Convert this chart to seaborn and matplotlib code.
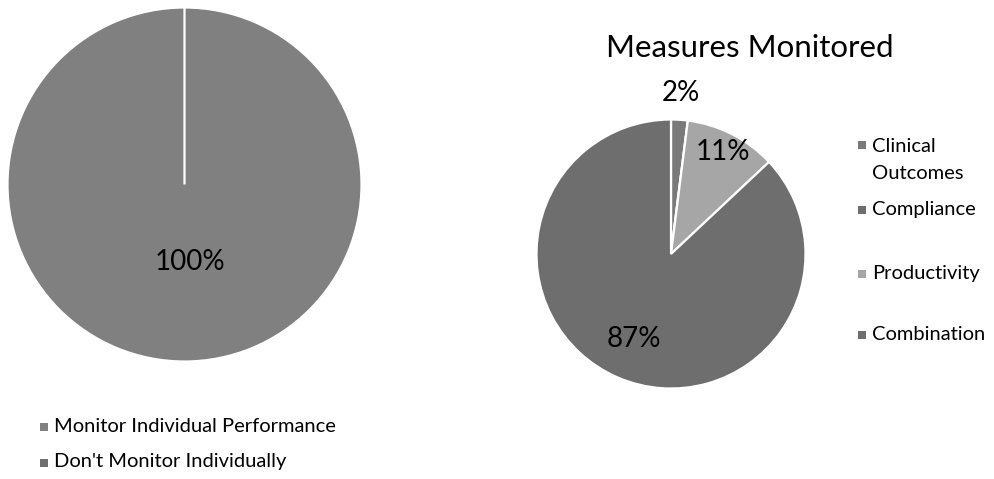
import numpy as np
import matplotlib
matplotlib.use("Agg")
import matplotlib.pyplot as plt
import seaborn as sns
from matplotlib.patches import Rectangle

# Monitoring of individual performance
monitor_labels = ["Monitor Individual Performance", "Don't Monitor Individually"]
monitor_values = [100, 0]
monitor_colors = ["#808080", "#6e6e6e"]

# Measures monitored
measure_title = "Measures Monitored"
measure_labels = ["Clinical\nOutcomes", "Compliance", "Productivity", "Combination"]
measure_values = [2, 0, 11, 87]
measure_colors = ["#7a7a7a", "#6e6e6e", "#a6a6a6", "#6e6e6e"]

sns.set_style("white")
plt.rcParams["font.family"] = ["Lato", "DejaVu Sans"]

W, H = 995, 479
fig = plt.figure(figsize=(W / 100, H / 100), dpi=100)
fig.patch.set_facecolor("white")


def pie_axes(cx, cy, r):
    return fig.add_axes([(cx - r) / W, (H - cy - r) / H, 2 * r / W, 2 * r / H])


def finish(ax):
    ax.set_xlim(-1, 1)
    ax.set_ylim(-1, 1)
    ax.set_aspect("equal")
    ax.axis("off")


def pct(v):
    return f"{v:.0f}%" if v > 0.5 else ""


def place_labels(texts, dists, base=0.5):
    for t, d in zip(texts, dists):
        if t.get_text():
            x, y = t.get_position()
            t.set_position((x / base * d, y / base * d))


wedge_style = dict(edgecolor="white", linewidth=1.6)
pct_style = dict(fontsize=20, color="black")

# Left pie
ax1 = pie_axes(184.5, 184.5, 177)
w1, _, t1 = ax1.pie(monitor_values, colors=monitor_colors, startangle=90,
                    counterclock=False, radius=1.0, autopct=pct,
                    pctdistance=0.5, wedgeprops=wedge_style, textprops=pct_style)
place_labels(t1, [0.44, 0.0])
t1[0].set_x(t1[0].get_position()[0] + 0.03)
finish(ax1)

# Right pie
ax2 = pie_axes(671, 254, 134.5)
w2, _, t2 = ax2.pie(measure_values, colors=measure_colors, startangle=90,
                    counterclock=False, radius=1.0, autopct=pct,
                    pctdistance=0.5, wedgeprops=wedge_style, textprops=pct_style)
place_labels(t2, [1.2, 0.0, 0.85, 0.69])
finish(ax2)

fig.text(750 / W, 1 - 48 / H, measure_title, ha="center", va="center",
         fontsize=22.5, color="black")

# Legends
SQ = 8
LEG_FS = 14.5


def legend_square(x, y, color):
    fig.patches.append(Rectangle(((x - SQ / 2) / W, (H - y - SQ / 2) / H), SQ / W, SQ / H,
                                 transform=fig.transFigure, facecolor=color,
                                 edgecolor="none"))


def legend_entry(x, y, color, text):
    legend_square(x, y, color)
    if "\n" in text:
        fig.text((x + 10) / W, 1 - (y - 7) / H, text, ha="left", va="top",
                 fontsize=LEG_FS, color="black", linespacing=1.75)
    else:
        fig.text((x + 10) / W, 1 - (y - 1) / H, text, ha="left", va="center",
                 fontsize=LEG_FS, color="black")


legend_entry(44, 427, monitor_colors[0], monitor_labels[0])
legend_entry(44, 463, monitor_colors[1], monitor_labels[1])

measure_y = [145, 210, 274, 335]
for y, c, lab in zip(measure_y, measure_colors, measure_labels):
    legend_entry(862, y, c, lab)

fig.savefig("out.png", dpi=100, facecolor="white")
